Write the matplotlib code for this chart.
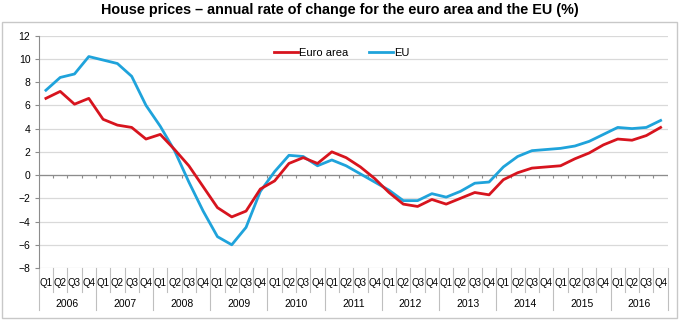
import numpy as np
import matplotlib
matplotlib.use("Agg")
import matplotlib.pyplot as plt
from matplotlib.patches import Rectangle

years = ["2006", "2007", "2008", "2009", "2010", "2011",
         "2012", "2013", "2014", "2015", "2016"]
quarters = ["Q1", "Q2", "Q3", "Q4"]

euro_area = [6.6, 7.2, 6.1, 6.6,
             4.8, 4.3, 4.1, 3.1,
             3.5, 2.2, 0.8, -1.0,
             -2.8, -3.6, -3.1, -1.2,
             -0.5, 1.0, 1.5, 1.0,
             2.0, 1.5, 0.7, -0.3,
             -1.5, -2.5, -2.7, -2.1,
             -2.5, -2.0, -1.5, -1.7,
             -0.4, 0.2, 0.6, 0.7,
             0.8, 1.4, 1.9, 2.6,
             3.1, 3.0, 3.4, 4.1]

eu = [7.3, 8.4, 8.7, 10.2,
      9.9, 9.6, 8.5, 6.0,
      4.2, 2.1, -0.6, -3.1,
      -5.3, -6.0, -4.5, -1.4,
      0.3, 1.7, 1.6, 0.8,
      1.3, 0.8, 0.1, -0.6,
      -1.3, -2.2, -2.2, -1.6,
      -1.9, -1.4, -0.7, -0.6,
      0.7, 1.6, 2.1, 2.2,
      2.3, 2.5, 2.9, 3.5,
      4.1, 4.0, 4.1, 4.7]

RED = "#D7141E"
BLUE = "#1FA3DB"
GRID = "#D9D9D9"
AXIS = "#8C8C8C"

plt.rcParams["font.family"] = ["Liberation Sans", "DejaVu Sans"]

fig = plt.figure(figsize=(6.8, 3.21), dpi=100)
ax = fig.add_axes([0.057, 0.165, 0.925, 0.724])

# light frame round the chart (below the title)
fig.patches.append(Rectangle((2 / 680, 3 / 321), 675 / 680, 296 / 321,
                             transform=fig.transFigure, fill=False,
                             edgecolor="#C8C8C8", linewidth=1.0))

x = np.arange(len(euro_area))
ax.plot(x, euro_area, color=RED, linewidth=2.0, label="Euro area", zorder=4)
ax.plot(x, eu, color=BLUE, linewidth=2.0, label="EU", zorder=3)

ax.set_xlim(-0.5, len(x) - 0.5)
ax.set_ylim(-8, 12)
ax.set_yticks(range(-8, 13, 2))
ax.yaxis.grid(True, color=GRID, linewidth=0.9)
ax.set_axisbelow(True)
ax.tick_params(axis="y", labelsize=7.5, length=3, color=AXIS, pad=3)
for s in ["top", "right", "bottom"]:
    ax.spines[s].set_visible(False)
ax.spines["left"].set_color(AXIS)

# category axis at zero with small tick marks
ax.axhline(0, color=AXIS, linewidth=0.9, zorder=2)
ax.vlines(np.arange(len(x) + 1) - 0.5, -0.28, 0, color=AXIS, linewidth=0.8, zorder=2)

# two-level category labels below the plot
ax.set_xticks([])
trans = ax.get_xaxis_transform()
for i in range(len(x)):
    ax.text(i, -0.063, quarters[i % 4], transform=trans, ha="center", va="center",
            fontsize=7)
for k, yr in enumerate(years):
    ax.text(4 * k + 1.5, -0.155, yr, transform=trans, ha="center", va="center",
            fontsize=7.5)
for b in range(len(x) + 1):
    bottom = -0.18 if b % 4 == 0 else -0.105
    ax.plot([b - 0.5, b - 0.5], [0, bottom], transform=trans, color="#BFBFBF",
            linewidth=0.8, clip_on=False)

ax.legend(loc="upper center", bbox_to_anchor=(0.482, 0.99), ncol=2, frameon=False,
          fontsize=8, handlelength=2.15, handletextpad=0.1, columnspacing=1.9)

fig.text(0.5, 0.968, "House prices \u2013 annual rate of change for the euro area and the EU (%)",
         ha="center", va="center", fontsize=10.4, fontweight="bold")

fig.savefig("out.png", dpi=100)
